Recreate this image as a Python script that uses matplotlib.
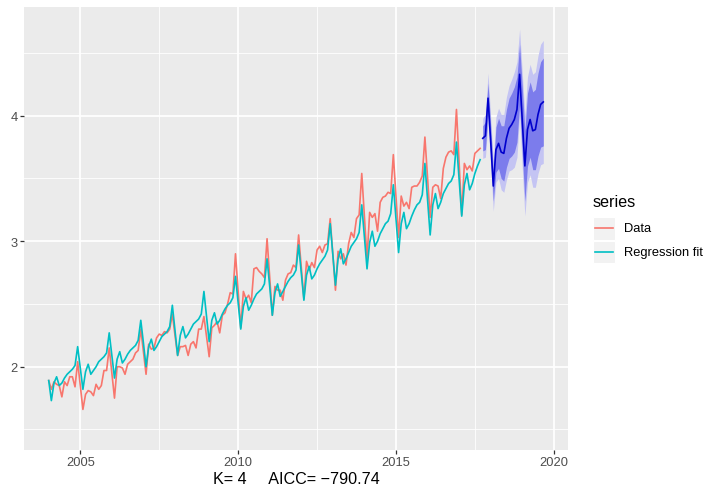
import numpy as np
import matplotlib
matplotlib.use("Agg")
from matplotlib import pyplot as plt
from matplotlib.lines import Line2D
from matplotlib.patches import Rectangle

plt.rcParams['font.family'] = ['Liberation Sans', 'DejaVu Sans']

# monthly series, Jan 2004 - Sep 2017
start_year = 2004
data = [
    1.89, 1.82, 1.88, 1.86, 1.85, 1.76, 1.88, 1.85, 1.92, 1.92, 1.84, 2.04,
    1.85, 1.66, 1.78, 1.81, 1.80, 1.77, 1.86, 1.82, 1.85, 1.97, 1.97, 2.15,
    1.95, 1.75, 2.00, 2.00, 1.99, 1.94, 2.02, 2.04, 2.06, 2.11, 2.13, 2.30,
    2.12, 1.94, 2.18, 2.14, 2.15, 2.23, 2.26, 2.25, 2.28, 2.27, 2.30, 2.42,
    2.25, 2.09, 2.16, 2.16, 2.17, 2.09, 2.18, 2.20, 2.15, 2.30, 2.30, 2.40,
    2.24, 2.08, 2.31, 2.33, 2.36, 2.27, 2.41, 2.43, 2.50, 2.59, 2.58, 2.90,
    2.60, 2.31, 2.60, 2.54, 2.57, 2.51, 2.78, 2.79, 2.76, 2.74, 2.71, 3.02,
    2.72, 2.41, 2.64, 2.61, 2.61, 2.53, 2.69, 2.74, 2.75, 2.81, 2.79, 3.05,
    2.80, 2.54, 2.84, 2.77, 2.83, 2.79, 2.93, 2.96, 2.91, 2.97, 2.98, 3.18,
    2.90, 2.61, 2.92, 2.86, 2.90, 2.81, 2.98, 3.07, 3.03, 3.18, 3.21, 3.54,
    3.20, 2.86, 3.23, 3.19, 3.22, 3.08, 3.31, 3.35, 3.36, 3.39, 3.38, 3.69,
    3.36, 3.03, 3.36, 3.28, 3.31, 3.26, 3.43, 3.44, 3.44, 3.47, 3.52, 3.83,
    3.51, 3.19, 3.43, 3.45, 3.44, 3.34, 3.58, 3.67, 3.71, 3.72, 3.69, 4.05,
    3.63, 3.21, 3.62, 3.57, 3.60, 3.56, 3.70, 3.72, 3.74,
]
fitted = [
    1.89, 1.73, 1.87, 1.92, 1.85, 1.87, 1.91, 1.94, 1.96, 1.98, 2.01, 2.16,
    1.99, 1.82, 1.96, 2.02, 1.94, 1.97, 2.00, 2.04, 2.06, 2.08, 2.11, 2.27,
    2.09, 1.91, 2.06, 2.12, 2.03, 2.06, 2.10, 2.13, 2.15, 2.17, 2.21, 2.37,
    2.19, 2.00, 2.16, 2.22, 2.13, 2.16, 2.20, 2.24, 2.26, 2.28, 2.32, 2.49,
    2.29, 2.09, 2.25, 2.32, 2.23, 2.26, 2.30, 2.34, 2.36, 2.38, 2.42, 2.60,
    2.40, 2.20, 2.37, 2.43, 2.34, 2.37, 2.42, 2.46, 2.49, 2.51, 2.55, 2.72,
    2.51, 2.30, 2.48, 2.55, 2.45, 2.49, 2.54, 2.58, 2.60, 2.62, 2.66, 2.86,
    2.64, 2.41, 2.59, 2.66, 2.56, 2.60, 2.64, 2.68, 2.71, 2.73, 2.77, 2.97,
    2.75, 2.53, 2.73, 2.80, 2.70, 2.73, 2.78, 2.82, 2.85, 2.88, 2.93, 3.14,
    2.90, 2.65, 2.86, 2.94, 2.82, 2.86, 2.91, 2.96, 2.99, 3.02, 3.07, 3.29,
    3.04, 2.78, 2.99, 3.08, 2.96, 3.00, 3.06, 3.10, 3.14, 3.16, 3.22, 3.45,
    3.18, 2.91, 3.14, 3.23, 3.10, 3.14, 3.20, 3.25, 3.29, 3.31, 3.37, 3.62,
    3.34, 3.05, 3.29, 3.38, 3.26, 3.31, 3.38, 3.42, 3.46, 3.48, 3.53, 3.79,
    3.50, 3.20, 3.45, 3.54, 3.41, 3.46, 3.54, 3.60, 3.65,
]

# forecasts, Oct 2017 - Sep 2019
fc_start = 2017 + 9 / 12
fc_mean = [3.82, 3.84, 4.14, 3.80, 3.44, 3.73, 3.78, 3.71, 3.70, 3.82, 3.90, 3.93,
           3.97, 4.05, 4.33, 3.97, 3.60, 3.89, 3.97, 3.88, 3.89, 4.01, 4.09, 4.11]
lo80 = [3.72, 3.73, 4.02, 3.68, 3.32, 3.55, 3.58, 3.50, 3.48, 3.59, 3.66, 3.68,
        3.71, 3.79, 4.09, 3.71, 3.32, 3.60, 3.67, 3.57, 3.57, 3.68, 3.75, 3.76]
hi80 = [3.92, 3.95, 4.26, 3.92, 3.56, 3.91, 3.98, 3.92, 3.92, 4.05, 4.14, 4.18,
        4.23, 4.31, 4.57, 4.23, 3.88, 4.18, 4.27, 4.19, 4.21, 4.34, 4.43, 4.46]
lo95 = [3.66, 3.67, 3.94, 3.61, 3.24, 3.47, 3.50, 3.41, 3.39, 3.49, 3.56, 3.57,
        3.59, 3.67, 4.00, 3.59, 3.20, 3.47, 3.53, 3.43, 3.43, 3.54, 3.61, 3.62]
hi95 = [3.98, 4.01, 4.34, 3.99, 3.64, 3.99, 4.06, 4.01, 4.01, 4.15, 4.24, 4.29,
        4.35, 4.43, 4.69, 4.35, 4.00, 4.31, 4.41, 4.33, 4.35, 4.48, 4.57, 4.60]

t = start_year + np.arange(len(data)) / 12
tf = fc_start + np.arange(len(fc_mean)) / 12

W, H = 706, 489
fig = plt.figure(figsize=(W / 100, H / 100), dpi=100)


def fx(px):
    return px / W


def fy(py):
    return 1 - py / H


ax = fig.add_axes([fx(24), fy(450.7), fx(568) - fx(24), fy(8.3) - fy(450.7)])
ax.set_facecolor('#EBEBEB')

ax.fill_between(tf, lo95, hi95, color='#C4C4F3', linewidth=0)
ax.fill_between(tf, lo80, hi80, color='#7C7CEC', linewidth=0)
ax.plot(tf, fc_mean, color='#0000CC', linewidth=1.2)
ax.plot(t, data, color='#F8766D', linewidth=1.2)
ax.plot(t, fitted, color='#00BFC4', linewidth=1.2)

ax.set_xlim(2003.217, 2020.45)
ax.set_ylim(1.339, 4.864)
ax.set_xticks([2005, 2010, 2015, 2020])
ax.set_xticks([2007.5, 2012.5, 2017.5], minor=True)
ax.set_yticks([2, 3, 4])
ax.set_yticks([1.5, 2.5, 3.5, 4.5], minor=True)
ax.grid(which='major', color='white', linewidth=1.25)
ax.grid(which='minor', color='white', linewidth=0.6)
ax.set_axisbelow(True)
for s in ax.spines.values():
    s.set_visible(False)
ax.tick_params(which='major', length=2.7, width=0.9, color='#333333',
               labelsize=9.3, labelcolor='#4D4D4D', pad=2.0)
ax.tick_params(which='minor', length=0)

fig.text(fx(296), fy(480), 'K= 4     AICC= \u2212790.74', ha='center', va='center',
         fontsize=11.6, color='black')

# legend
fig.text(fx(592.7), fy(202.5), 'series', ha='left', va='center', fontsize=11.6)
labels = ['Data', 'Regression fit']
colors = ['#F8766D', '#00BFC4']
for i, (lab, col) in enumerate(zip(labels, colors)):
    top = 218.3 + i * 23.2
    fig.patches.append(Rectangle((fx(592.7), fy(top + 22.2)), fx(22.3), fy(top) - fy(top + 22.2),
                                 transform=fig.transFigure, facecolor='#F2F2F2',
                                 edgecolor='white', linewidth=0.8))
    yc = fy(top + 11.1)
    fig.lines.append(Line2D([fx(595), fx(613)], [yc, yc], transform=fig.transFigure,
                            color=col, linewidth=1.2))
    fig.text(fx(624), yc, lab, ha='left', va='center', fontsize=9.3)

fig.savefig('out.png', dpi=100)
